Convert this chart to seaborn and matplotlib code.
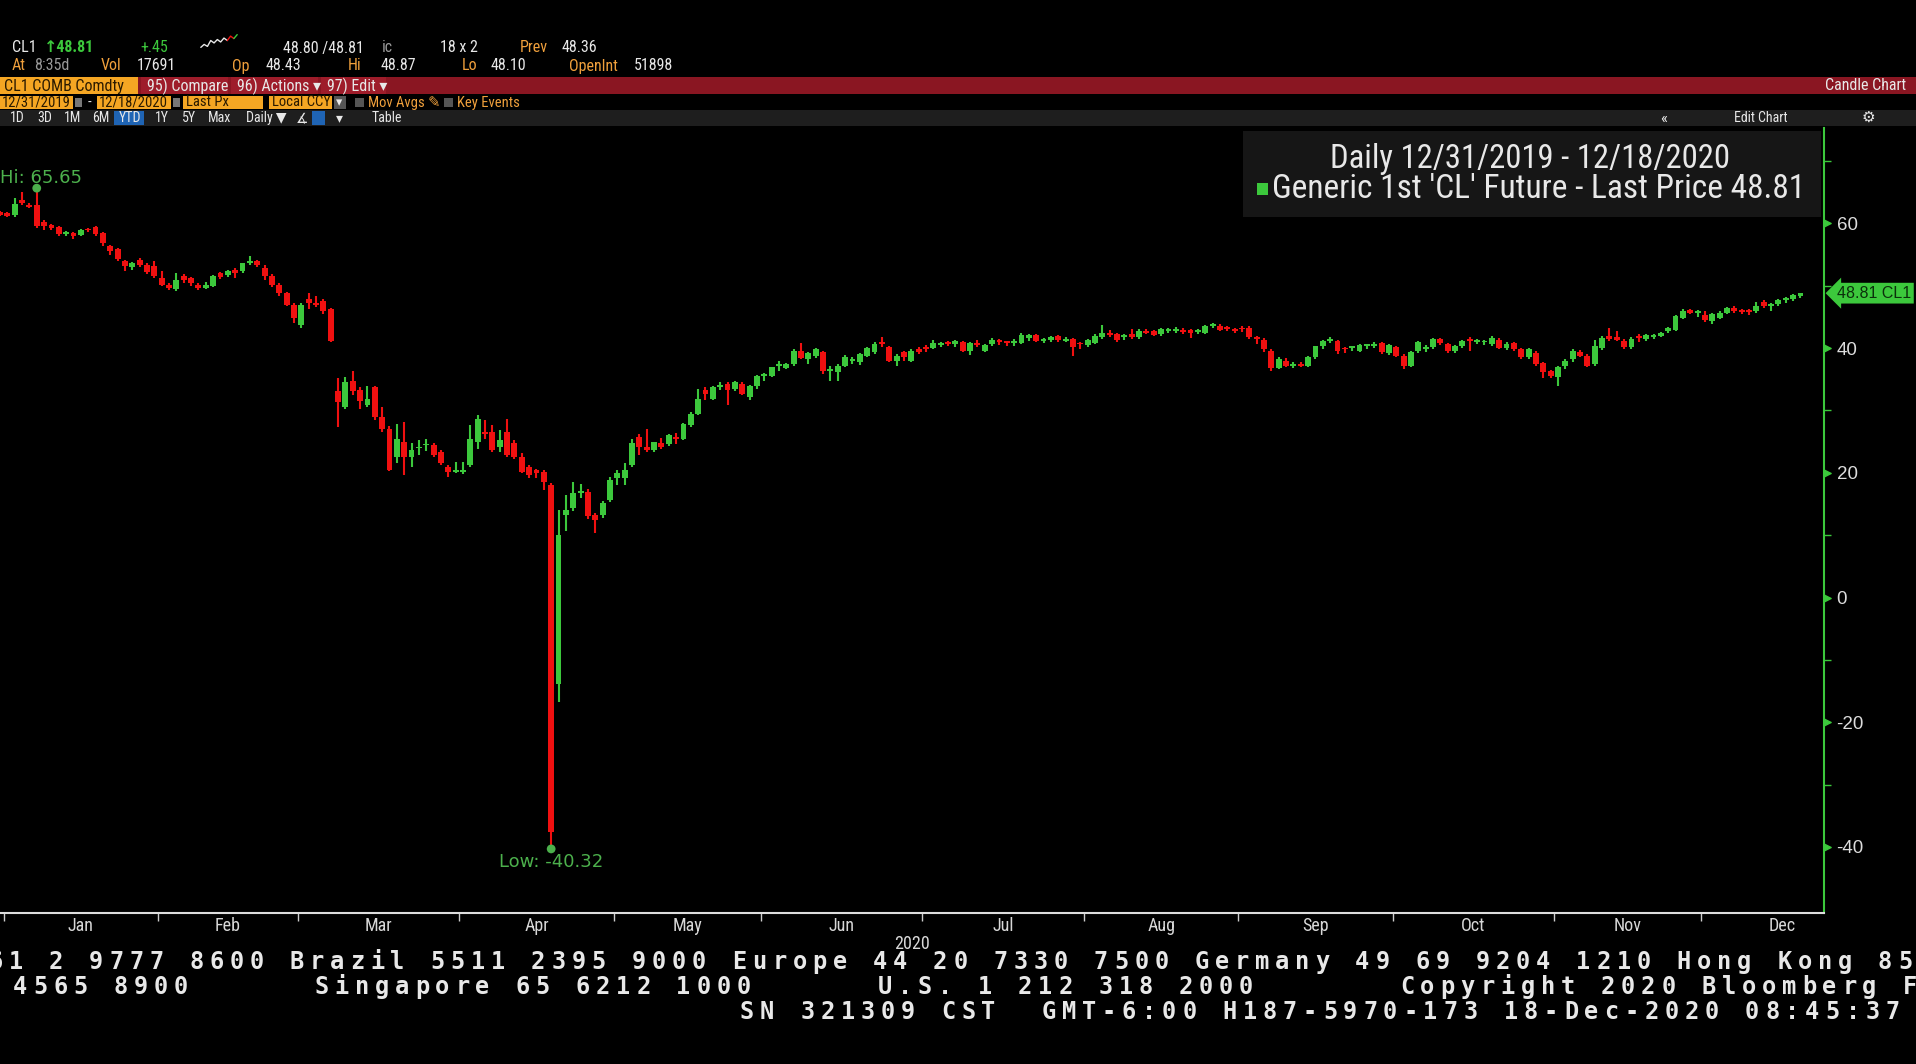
import numpy as np
import pandas as pd
import seaborn as sns
import matplotlib.pyplot as plt
from matplotlib import font_manager
from matplotlib.patches import Rectangle
from matplotlib.transforms import blended_transform_factory, offset_copy

# =========================
# DATA  (CL1 daily OHLC, 12/31/2019 - 12/18/2020, one row per month)
# =========================
month_labels = ["Jan", "Feb", "Mar", "Apr", "May", "Jun",
                "Jul", "Aug", "Sep", "Oct", "Nov", "Dec"]
month_days = [21, 19, 22, 21, 20, 22, 22, 21, 21, 22, 20, 14]       # trading days drawn
month_full_days = [21, 19, 22, 21, 20, 22, 22, 21, 21, 22, 20, 22]  # full month (label centre)
year_label = "2020"
y_ticks = [-40, -20, 0, 20, 40, 60]
y_minor = [-30, -10, 10, 30, 50, 70]

opens = [
    61.9,
    61.7, 61.3, 63.7, 63.0, 62.9, 60.2, 59.7, 59.4, 58.3, 58.4, 58.1, 59.0, 59.4, 58.4, 56.3, 55.9, 53.9, 53.0, 54.1, 53.3, 53.1,
    51.2, 50.1, 49.4, 51.5, 51.2, 50.2, 49.7, 49.9, 52.0, 51.7, 52.5, 52.3, 53.6, 53.9, 52.8, 51.5, 50.2, 48.8, 46.9,
    43.7, 47.8, 47.2, 47.5, 46.2, 33.1, 30.5, 34.7, 33.2, 30.8, 33.8, 28.9, 27.1, 22.5, 24.9, 22.5, 23.9, 24.4, 24.4, 23.4, 21.0, 20.2,
    20.1, 21.2, 25.0, 26.5, 26.6, 24.2, 26.5, 24.7, 22.5, 20.9, 20.4, 20.2, 18.0, -13.8, 13.2, 14.3, 16.8, 17.0, 13.2, 13.3, 15.7,
    19.1, 19.1, 21.2, 25.7, 24.2, 23.6, 24.7, 24.6, 25.6, 25.5, 27.6, 29.5, 33.2, 31.9, 33.8, 34.2, 33.4, 34.3, 32.1, 33.9,
    35.5, 35.6, 37.1, 36.8, 37.4, 39.6, 38.2, 38.7, 39.3, 36.3, 36.1, 37.2, 37.9, 37.7, 38.8, 39.3, 40.9, 40.1, 38.0, 39.3, 38.0, 39.8,
    40.1, 40.0, 40.5, 40.9, 40.6, 40.9, 39.6, 40.7, 39.6, 40.6, 41.2, 41.0, 40.8, 40.8, 41.6, 42.1, 41.2, 41.3, 41.9, 41.2, 41.4, 40.7,
    40.5, 40.8, 41.7, 42.5, 42.2, 41.8, 42.2, 41.7, 42.8, 42.7, 42.2, 42.8, 42.7, 42.9, 42.9, 42.6, 42.5, 43.6, 43.6, 43.3, 43.1,
    43.1, 43.2, 41.7, 41.3, 39.6, 36.8, 38.0, 37.2, 37.5, 37.2, 38.5, 40.3, 41.2, 41.1, 39.9, 40.0, 39.6, 40.3, 40.3, 40.8, 39.2,
    40.1, 38.8, 37.2, 39.5, 39.9, 40.1, 41.4, 40.6, 39.5, 40.3, 41.3, 41.0, 40.9, 40.6, 41.3, 40.0, 40.8, 39.8, 38.5, 39.2, 37.6, 36.3,
    35.3, 37.1, 38.2, 39.3, 38.8, 37.4, 40.0, 41.9, 41.7, 41.1, 40.1, 41.7, 41.4, 41.8, 41.9, 42.7, 42.9, 44.9, 46.1, 45.6,
    45.3, 44.3, 44.9, 45.7, 46.5, 45.9, 45.9, 45.9, 47.4, 46.7, 47.0, 47.7, 47.8, 48.43,
]
highs = [
    62.0,
    61.9, 64.1, 65.0, 63.3, 65.65, 60.5, 59.9, 59.6, 58.8, 58.6, 59.1, 59.2, 59.6, 58.7, 56.6, 56.0, 54.2, 53.8, 54.4, 53.6, 53.9,
    52.3, 50.4, 52.0, 51.9, 51.4, 50.4, 50.6, 51.7, 52.2, 52.5, 52.8, 53.7, 54.7, 54.2, 53.4, 51.9, 50.5, 49.0, 47.2,
    47.3, 48.8, 48.4, 47.8, 46.4, 35.2, 35.3, 36.4, 33.7, 34.0, 34.0, 30.5, 27.5, 27.9, 28.1, 24.7, 25.2, 25.5, 24.8, 23.7, 21.3, 21.8,
    21.8, 27.6, 29.2, 28.4, 27.6, 26.8, 28.6, 25.3, 23.1, 21.2, 20.6, 20.5, 18.3, 14.0, 16.4, 18.5, 18.2, 17.4, 13.5, 15.4, 19.4,
    20.4, 21.5, 25.5, 26.2, 27.0, 25.0, 25.6, 26.3, 26.4, 28.0, 29.8, 33.5, 33.8, 34.0, 34.6, 34.5, 34.8, 34.6, 34.1, 35.7,
    36.0, 37.0, 38.0, 37.6, 39.8, 40.8, 39.4, 40.0, 39.5, 37.2, 37.4, 38.9, 38.6, 39.2, 40.2, 40.9, 41.7, 40.4, 39.0, 39.5, 39.9, 40.1,
    40.5, 41.3, 41.0, 41.2, 41.3, 41.1, 41.0, 41.3, 40.7, 41.6, 41.5, 41.2, 41.4, 42.5, 42.3, 42.3, 41.6, 41.9, 42.1, 41.7, 41.6, 40.9,
    41.5, 42.2, 43.7, 42.9, 42.5, 42.3, 43.0, 43.0, 43.1, 42.9, 43.2, 43.3, 43.4, 43.2, 43.1, 43.1, 43.7, 44.0, 43.9, 43.6, 43.3,
    43.5, 43.5, 42.0, 41.6, 39.8, 38.6, 38.4, 37.7, 37.8, 38.7, 40.4, 41.3, 41.8, 41.3, 40.2, 40.4, 40.7, 40.6, 40.9, 41.0, 40.7,
    40.4, 39.0, 39.5, 41.2, 40.5, 41.6, 41.6, 40.8, 40.5, 41.3, 41.7, 41.4, 41.3, 41.9, 41.6, 40.9, 41.0, 40.0, 40.0, 39.5, 37.8, 36.5,
    37.2, 38.2, 39.8, 39.7, 39.0, 41.3, 41.9, 43.2, 42.8, 41.4, 41.7, 42.2, 42.3, 42.2, 42.6, 43.4, 45.3, 46.3, 46.3, 46.1,
    45.9, 45.6, 46.0, 46.6, 46.7, 46.2, 46.2, 47.4, 47.7, 47.2, 47.9, 48.2, 48.6, 48.87,
]
lows = [
    61.2,
    61.0, 61.1, 63.0, 62.4, 59.2, 58.9, 58.9, 58.0, 57.9, 57.5, 57.9, 58.6, 58.0, 56.3, 55.0, 54.0, 52.3, 52.6, 53.0, 51.9, 51.3,
    49.9, 49.3, 49.2, 50.5, 50.0, 49.3, 49.5, 49.8, 51.1, 51.4, 51.2, 52.1, 53.3, 53.0, 51.0, 49.8, 48.4, 46.7, 44.0,
    43.3, 46.3, 46.6, 45.5, 41.0, 27.4, 30.3, 32.5, 30.2, 30.5, 28.5, 26.6, 20.3, 21.5, 19.6, 21.0, 22.8, 23.5, 22.5, 21.3, 19.4, 19.9,
    19.8, 20.9, 23.8, 25.4, 23.3, 23.3, 22.6, 22.2, 19.9, 19.2, 19.2, 17.3, -40.32, -16.7, 10.6, 13.8, 15.9, 12.6, 10.3, 12.8, 15.3,
    18.0, 18.0, 20.9, 22.8, 23.3, 23.3, 23.8, 24.3, 24.6, 25.2, 27.3, 29.3, 31.6, 31.7, 33.2, 30.8, 33.1, 32.4, 31.6, 33.5,
    34.8, 35.3, 36.3, 36.6, 37.2, 38.2, 37.4, 38.4, 35.9, 34.7, 34.7, 36.9, 37.4, 37.3, 38.6, 39.1, 40.1, 37.7, 37.2, 38.0, 37.7, 39.1,
    39.4, 39.8, 40.2, 40.3, 40.2, 39.3, 38.9, 40.1, 39.3, 40.4, 40.5, 40.4, 40.3, 40.6, 41.2, 40.9, 40.8, 41.0, 41.0, 40.9, 38.8, 39.9,
    40.2, 40.6, 41.5, 41.8, 41.0, 41.3, 41.5, 41.4, 42.2, 41.9, 42.0, 42.4, 42.4, 42.2, 41.6, 42.3, 42.3, 43.2, 42.7, 42.8, 42.5,
    42.6, 41.5, 40.6, 39.4, 36.4, 36.6, 36.9, 36.8, 36.9, 36.9, 38.2, 39.8, 40.8, 39.0, 39.2, 39.6, 39.3, 39.9, 40.0, 39.0, 38.9,
    38.5, 36.6, 36.9, 39.2, 39.4, 39.9, 40.5, 39.2, 39.2, 40.0, 39.5, 40.6, 40.5, 40.3, 39.8, 39.7, 39.5, 38.3, 38.2, 37.1, 35.2, 35.2,
    34.0, 36.6, 37.8, 38.5, 37.0, 37.1, 39.7, 41.2, 41.1, 39.9, 39.8, 41.0, 41.2, 41.4, 41.7, 42.5, 42.7, 44.6, 45.4, 45.0,
    44.2, 43.9, 44.6, 45.4, 45.6, 45.4, 45.3, 45.7, 46.5, 45.9, 46.8, 47.3, 47.6, 48.10,
]
closes = [
    61.4,
    61.2, 63.1, 63.3, 62.7, 59.6, 59.6, 59.2, 58.3, 58.4, 57.9, 58.9, 58.9, 58.3, 56.8, 55.5, 54.3, 53.1, 53.6, 53.3, 52.2, 51.5,
    50.1, 49.6, 50.9, 50.9, 50.4, 49.6, 50.2, 51.5, 51.4, 52.3, 52.0, 53.6, 53.9, 53.3, 51.5, 50.1, 48.8, 46.9, 44.8,
    46.9, 47.2, 46.9, 45.9, 41.2, 31.3, 34.5, 33.1, 31.5, 31.9, 28.9, 27.0, 20.4, 25.4, 22.5, 23.6, 24.1, 24.6, 22.8, 21.5, 20.1, 20.5,
    20.5, 25.5, 28.6, 26.2, 23.6, 25.2, 22.8, 22.5, 20.2, 19.7, 19.9, 18.5, -37.6, 10.0, 14.0, 16.7, 17.0, 13.0, 12.4, 15.2, 18.9,
    19.9, 20.5, 24.7, 24.2, 23.6, 24.9, 24.1, 26.0, 25.4, 27.8, 29.5, 31.9, 32.6, 33.7, 33.9, 33.2, 34.5, 32.7, 33.9, 35.6,
    35.6, 36.9, 37.2, 37.4, 39.6, 38.4, 39.2, 39.8, 36.3, 36.4, 37.2, 38.5, 38.0, 39.0, 40.0, 40.6, 40.7, 38.0, 38.8, 38.5, 39.6, 39.3,
    39.9, 40.8, 40.8, 40.7, 41.1, 39.6, 40.8, 40.5, 40.5, 41.3, 41.0, 40.8, 40.9, 42.1, 42.1, 41.1, 41.3, 41.7, 41.3, 41.3, 40.1, 40.6,
    41.3, 41.9, 42.4, 42.1, 41.3, 41.9, 41.7, 42.8, 42.5, 42.1, 43.0, 42.9, 43.0, 42.6, 42.4, 42.7, 43.5, 43.7, 42.9, 43.1, 42.8,
    43.0, 41.7, 41.5, 39.8, 36.8, 38.2, 37.2, 37.4, 37.2, 38.5, 40.3, 41.1, 41.3, 39.5, 39.8, 40.1, 40.5, 40.4, 40.6, 39.3, 40.5,
    38.7, 37.2, 39.3, 40.9, 40.0, 41.4, 40.8, 39.5, 40.3, 41.1, 41.1, 41.1, 41.0, 41.6, 40.0, 40.6, 39.8, 38.5, 39.8, 37.4, 36.1, 35.6,
    36.9, 37.9, 39.5, 38.8, 37.2, 40.4, 41.6, 41.4, 41.3, 40.1, 41.4, 41.6, 42.1, 41.9, 42.4, 43.2, 45.1, 45.9, 45.7, 45.7,
    44.5, 45.4, 45.7, 46.4, 45.9, 45.8, 45.8, 46.8, 46.7, 47.0, 47.7, 47.8, 48.5, 48.81,
]

# header quote values
quote_last = "48.81"
quote_chg = "+.45"
quote_bidask = "48.80 /48.81"
quote_size = "18 x 2"
quote_prev = "48.36"
quote_vol = "17691"
quote_open = "48.43"
quote_hi = "48.87"
quote_lo = "48.10"
quote_oi = "51898"
spark = [3.0, 3.6, 3.2, 4.4, 3.9, 4.6, 4.1, 4.9, 4.4, 5.3, 4.8, 5.6]

footer_lines = [
    "Australia 61 2 9777 8600 Brazil 5511 2395 9000 Europe 44 20 7330 7500 Germany 49 69 9204 1210 Hong Kong 852 2977 6000",
    "Japan 81 3 4565 8900      Singapore 65 6212 1000      U.S. 1 212 318 2000       Copyright 2020 Bloomberg Finance L.P.",
    "SN 321309 CST  GMT-6:00 H187-5970-173 18-Dec-2020 08:45:37",
]

# =========================
# STYLE
# =========================
W, H = 1916, 1064
GREEN = "#3cc83c"
RED = "#f01010"
ORANGE = "#f5a623"
AMBER = "#f0a03c"
WHITE = "#e8e8e8"
GREY = "#9a9a9a"
BARRED = "#8a1622"

sns.set_theme(style="dark", rc={
    "figure.facecolor": "black",
    "axes.facecolor": "black",
    "savefig.facecolor": "black",
    "axes.grid": False,
})
names = {f.name for f in font_manager.fontManager.ttflist}
NARROW = next((n for n in ["Liberation Sans Narrow", "Roboto Condensed"] if n in names),
              "Liberation Sans")
plt.rcParams["font.family"] = [NARROW, "DejaVu Sans"]

fig = plt.figure(figsize=(W / 100, H / 100), dpi=100)


def fx(px):
    return px / W


def fy(py):
    return 1 - py / H


def box(x0, y0, x1, y1, color):
    fig.patches.append(Rectangle((fx(x0), fy(y1)), (x1 - x0) / W, (y1 - y0) / H,
                                 transform=fig.transFigure, facecolor=color,
                                 edgecolor="none", zorder=0))


def txt(x, y, s, color=WHITE, size=11, ha="left", **kw):
    fig.text(fx(x), fy(y), s, color=color, fontsize=size, ha=ha, va="center",
             family=[NARROW, "DejaVu Sans"], **kw)


# =========================
# HEADER
# =========================
txt(12, 48, "CL1", WHITE, 11.5)
txt(44, 48, "\u2191" + quote_last, GREEN, 11.5, fontweight="bold")
txt(140, 48, quote_chg, GREEN, 11.5)
txt(283, 48, quote_bidask, WHITE, 11.5)
txt(382, 48, "ic", GREY, 11.5)
txt(440, 48, quote_size, WHITE, 11.5)
txt(520, 48, "Prev", AMBER, 11.5)
txt(562, 48, quote_prev, WHITE, 11.5)

txt(12, 66, "At", AMBER, 11.5)
txt(34, 66, "8:35d", GREY, 11.5)
txt(101, 66, "Vol", AMBER, 11.5)
txt(137, 66, quote_vol, WHITE, 11.5)
txt(232, 66, "Op", AMBER, 11.5)
txt(266, 66, quote_open, WHITE, 11.5)
txt(348, 66, "Hi", AMBER, 11.5)
txt(381, 66, quote_hi, WHITE, 11.5)
txt(462, 66, "Lo", AMBER, 11.5)
txt(491, 66, quote_lo, WHITE, 11.5)
txt(569, 66, "OpenInt", AMBER, 11.5)
txt(634, 66, quote_oi, WHITE, 11.5)

# sparkline
sp = fig.add_axes([fx(199), fy(48), 40 / W, 14 / H])
sp.plot(range(len(spark) - 3), spark[:-3], color=WHITE, lw=1)
sp.plot(range(len(spark) - 4, len(spark) - 1), spark[-4:-1], color=RED, lw=1)
sp.plot(range(len(spark) - 2, len(spark)), spark[-2:], color=GREEN, lw=1)
sp.axis("off")

# red command bar
box(0, 77, W, 94, BARRED)
box(0, 77, 138, 94, ORANGE)
txt(4, 86, "CL1 COMB Comdty", "#2a1a00", 11.5)
for x0, x1, s in [(141, 228, "95) Compare"), (231, 318, "96) Actions \u25be"),
                  (321, 386, "97) Edit \u25be")]:
    box(x0, 77, x1, 94, "#9e1c2a")
    txt(x0 + 6, 86, s, WHITE, 11.5)
txt(1906, 86, "Candle Chart", WHITE, 11.5, ha="right")

# date / field row
box(0, 96, 73, 109, ORANGE)
txt(2, 102.5, "12/31/2019", "#2a1a00", 10.5)
box(75, 98, 82, 107, "#777777")
txt(88, 102.5, "-", WHITE, 10.5)
box(97, 96, 171, 109, ORANGE)
txt(99, 102.5, "12/18/2020", "#2a1a00", 10.5)
box(173, 98, 180, 107, "#777777")
box(183, 96, 263, 109, ORANGE)
txt(186, 102.5, "Last Px", "#2a1a00", 10.5)
box(269, 96, 332, 109, ORANGE)
txt(272, 102.5, "Local CCY", "#2a1a00", 10.5)
box(334, 96, 346, 109, "#555555")
txt(336, 102.5, "\u25be", WHITE, 9)
box(355, 98, 364, 107, "#555555")
txt(368, 102.5, "Mov Avgs \u270e", AMBER, 10.5)
box(444, 98, 453, 107, "#555555")
txt(457, 102.5, "Key Events", AMBER, 10.5)

# range bar
box(0, 110, W, 126, "#1e1e1e")
box(114, 111, 144, 125, "#1f64b4")
for x, s in [(10, "1D"), (37, "3D"), (64, "1M"), (92, "6M"), (119, "YTD"), (155, "1Y"),
             (182, "5Y"), (208, "Max"), (246, "Daily \u25bc"), (296, "\u2221"),
             (336, "\u25be"), (372, "Table")]:
    txt(x, 118, s, WHITE, 10)
box(312, 111, 325, 125, "#1f64b4")
txt(1660, 118, "\u00ab", WHITE, 12)
txt(1734, 118, "Edit Chart", WHITE, 10)
txt(1862, 118, "\u2699", WHITE, 11)

# =========================
# CANDLES
# =========================
x = np.arange(len(closes))
o = np.array(opens)
c = np.array(closes)
hi = np.array(highs)
lo = np.array(lows)
up = c >= o
colors = np.where(up, GREEN, RED)

ax = fig.add_axes([0, fy(913), fx(1824), (913 - 128) / H])
ax.set_facecolor("black")
ax.vlines(x, lo, hi, colors=colors, lw=1.5, zorder=2)
body_low = np.minimum(o, c)
body_h = np.maximum(np.abs(c - o), 0.28)
ax.bar(x, body_h, bottom=body_low, width=0.8, color=colors, linewidth=0, zorder=3)

# hi / low markers
i_hi = int(np.argmax(hi))
i_lo = int(np.argmin(lo))
sns.scatterplot(x=[i_hi, i_lo], y=[hi[i_hi], lo[i_lo]], color="#4cb04c", s=40,
                edgecolor="none", ax=ax, zorder=4, clip_on=False)
ax.annotate(f"Hi: {hi[i_hi]:.2f}", (i_hi, hi[i_hi]), xytext=(-37, 10),
            textcoords="offset pixels", ha="left", va="center", color="#4cb04c",
            fontsize=13, family=["DejaVu Sans"], annotation_clip=False)
ax.annotate(f"Low: {lo[i_lo]:.2f}", (i_lo, lo[i_lo]), xytext=(0, -13),
            textcoords="offset pixels", ha="center", va="center", color="#4cb04c",
            fontsize=13, family=["DejaVu Sans"], annotation_clip=False)

ax.set_xlim(0, 248.2)
ax.set_ylim(-50.6, 75.3)

# axes styling
for side in ["top", "left"]:
    ax.spines[side].set_visible(False)
ax.spines["right"].set_color(GREEN)
ax.spines["right"].set_linewidth(1.5)
ax.spines["bottom"].set_color("#dddddd")
ax.spines["bottom"].set_linewidth(1.5)

ax.yaxis.tick_right()
ax.set_yticks(y_ticks)
ax.set_yticks(y_minor, minor=True)
ax.set_yticklabels([str(v) for v in y_ticks])
ax.tick_params(axis="y", which="major", right=True, left=False, length=0, pad=9,
               labelsize=13.5, labelcolor="#dcdcdc")
ax.tick_params(axis="y", which="minor", right=True, left=False, length=5, width=1,
               color=GREEN)
for lab in ax.get_yticklabels():
    lab.set_family(["Liberation Sans", "DejaVu Sans"])
tri_tf = offset_copy(blended_transform_factory(ax.transAxes, ax.transData), fig=fig,
                     x=3, y=0, units="dots")
ax.scatter(np.ones(len(y_ticks)), y_ticks, marker=">", s=28, color=GREEN,
           transform=tri_tf, clip_on=False, zorder=5)

# month ticks
starts = np.concatenate([[1], 1 + np.cumsum(month_days)[:-1]])
bounds = starts - 0.5
centers = bounds + np.array(month_full_days) / 2
ax.set_xticks(centers)
ax.set_xticklabels(month_labels)
ax.set_xticks(bounds, minor=True)
ax.tick_params(axis="x", which="major", bottom=True, length=0, pad=3,
               labelsize=13, labelcolor="#d8d8d8")
ax.tick_params(axis="x", which="minor", bottom=True, length=6, width=1,
               color="#cccccc")
txt(912, 944, year_label, "#d8d8d8", 13, ha="center")

# last price tag
ax.text(1.007, c[-1], f"{c[-1]:.2f} CL1",
        transform=blended_transform_factory(ax.transAxes, ax.transData),
        ha="left", va="center", fontsize=11.5, color="#0b300b",
        family=["Liberation Sans", "DejaVu Sans"], clip_on=False, zorder=6,
        bbox=dict(boxstyle="larrow,pad=0.18", fc=GREEN, ec="none"))

# legend box
box(1243, 131, 1821, 217, "#161616")
txt(1530, 159, "Daily 12/31/2019 - 12/18/2020", WHITE, 23.5, ha="center")
box(1257, 183, 1268, 195, GREEN)
txt(1272, 189, f"Generic 1st 'CL' Future - Last Price {c[-1]:.2f}", WHITE, 24)

# =========================
# FOOTER (terminal grid text)
# =========================
pitch = 20.1
for (x0, yy), line in zip([(-215.5, 962), (-211, 987), (737, 1012)], footer_lines):
    for k, ch in enumerate(line):
        cx = x0 + k * pitch + pitch / 2
        if ch == " " or cx < -15 or cx > W + 15:
            continue
        fig.text(fx(cx), fy(yy), ch, color=WHITE, fontsize=17, ha="center",
                 va="center", family=["DejaVu Sans Mono"], fontweight="bold")

fig.savefig("out.png", dpi=100, facecolor="black")
